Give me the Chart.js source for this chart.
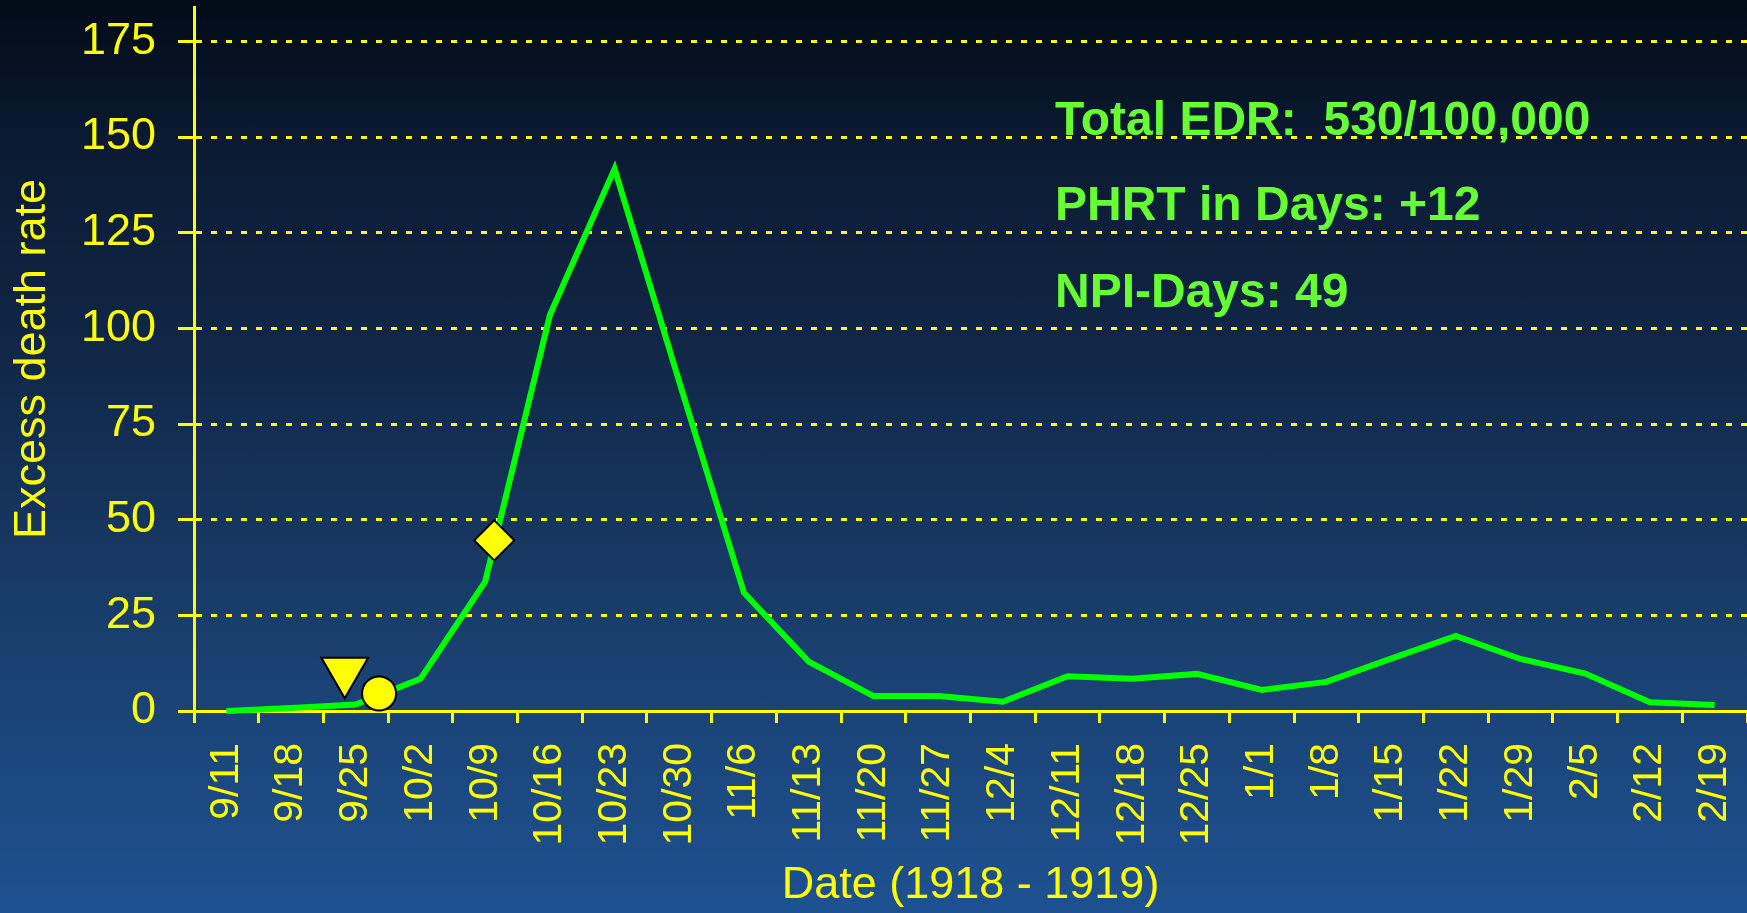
<!DOCTYPE html>
<html><head><meta charset="utf-8">
<script src="https://cdn.jsdelivr.net/npm/chart.js@4.4.0/dist/chart.umd.min.js"></script>
<style>
html,body{margin:0;padding:0;width:1747px;height:913px;overflow:hidden;
background:linear-gradient(to bottom,#020b17 0%,#0b1a31 15%,#112849 40%,#193f6e 70%,#1e5191 100%);}
canvas{display:block}
</style></head><body>
<canvas id="c" width="1747" height="913"></canvas>
<script>
const categories = ["9/11","9/18","9/25","10/2","10/9","10/16","10/23","10/30","11/6","11/13","11/20","11/27","12/4","12/11","12/18","12/25","1/1","1/8","1/15","1/22","1/29","2/5","2/12","2/19"];
const excessDeathRate = [0, 0.8, 1.7, 8.4, 33.8, 103.5, 141.7, 86, 30.9, 12.9, 3.9, 3.9, 2.4, 9.1, 8.4, 9.7, 5.5, 7.6, 13.7, 19.6, 13.6, 9.8, 2.3, 1.6];
const yTickValues = [0, 25, 50, 75, 100, 125, 150, 175];
const markerIndex = [1.83, 2.36, 4.14];
const markerValue = [10.4, 4.6, 44.6];
const annotationLines = ["Total EDR:  530/100,000", "PHRT in Days: +12", "NPI-Days: 49"];
const xTitle = "Date (1918 - 1919)";
const yTitle = "Excess death rate";

const YELLOW = '#ffff00';
const FONT = "'Liberation Sans', Arial, Helvetica, sans-serif";

const annotationPlugin = {
  id: 'annot',
  afterDraw(chart) {
    const ctx = chart.ctx;
    const a = chart.chartArea;
    ctx.save();
    ctx.fillStyle = '#66ff33';
    ctx.font = "bold 48px " + FONT;
    ctx.textAlign = 'left';
    ctx.textBaseline = 'alphabetic';
    const offsets = [128, 213, 300];
    annotationLines.forEach((t, i) => ctx.fillText(t, a.left + 861, a.top + offsets[i]));
    ctx.restore();
  }
};

new Chart(document.getElementById('c'), {
  type: 'line',
  data: {
    labels: categories,
    datasets: [
      {
        type: 'scatter',
        data: markerIndex.map((x, i) => ({x: x, y: markerValue[i]})),
        xAxisID: 'xm', yAxisID: 'y',
        pointStyle: ['triangle', 'circle', 'rectRot'],
        pointRadius: [27, 17, 20],
        pointRotation: [180, 0, 0],
        pointBackgroundColor: YELLOW,
        pointBorderColor: '#000000',
        pointBorderWidth: 2,
        showLine: false,
        clip: false,
        order: 0
      },
      {
        type: 'line',
        data: excessDeathRate,
        xAxisID: 'x', yAxisID: 'y',
        borderColor: '#00ff00',
        borderWidth: 6,
        pointRadius: 0,
        tension: 0,
        fill: false,
        clip: false,
        order: 1
      }
    ]
  },
  options: {
    responsive: false,
    animation: false,
    layout: {autoPadding: false, padding: {top: 7, left: 0, right: 0, bottom: 0}},
    plugins: {legend: {display: false}, tooltip: {enabled: false}},
    scales: {
      x: {
        type: 'category', offset: true, position: 'bottom',
        afterFit: s => { s.height = 202; s.paddingLeft = 0; s.paddingRight = 0; },
        ticks: {color: YELLOW, font: {family: FONT, size: 41}, minRotation: 90, maxRotation: 90, autoSkip: false, padding: 20},
        grid: {offset: true, drawOnChartArea: false, color: YELLOW, lineWidth: 3, tickLength: 12},
        border: {color: YELLOW, width: 3},
        title: {display: true, text: xTitle, color: YELLOW, font: {family: FONT, size: 45}, padding: {top: 0, bottom: 0}}
      },
      xm: {
        type: 'linear', display: false, min: -0.5, max: 23.5, offset: false
      },
      y: {
        type: 'linear', min: 0, max: 184, position: 'left',
        afterBuildTicks: s => { s.ticks = yTickValues.map(v => ({value: v})); },
        afterFit: s => { s.width = 194; s.paddingTop = 0; s.paddingBottom = 0; },
        ticks: {color: YELLOW, font: {family: FONT, size: 45}, padding: 22},
        grid: {color: YELLOW, lineWidth: 3, tickLength: 16, tickColor: YELLOW, tickWidth: 3, tickBorderDash: []},
        border: {color: YELLOW, width: 3, dash: [6, 9]},
        title: {display: true, text: yTitle, color: YELLOW, font: {family: FONT, size: 45}, padding: {top: 6, bottom: 0}}
      }
    }
  },
  plugins: [annotationPlugin]
});
</script>
</body></html>
